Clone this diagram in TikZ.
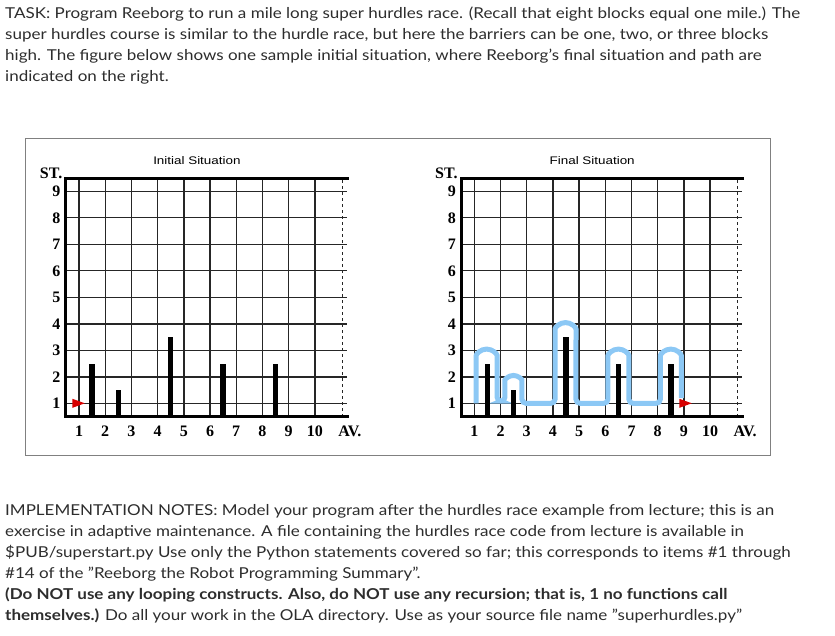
\documentclass[tikz,border=0pt]{standalone}
\usepackage{fontspec}
\usepackage{graphicx}
\newfontfamily\bodyfont{Lato}
\newfontfamily\titlefont{Liberation Sans}
\newfontfamily\numfont{Liberation Serif}
\definecolor{pathblue}{RGB}{140,200,245}
\definecolor{robotred}{RGB}{215,0,0}
\definecolor{txt}{RGB}{45,45,45}
\newcommand{\bt}[1]{\scalebox{1.134}[1]{#1}}
\newcommand{\rgrid}[2]{%
  \foreach \i in {1,...,10} \draw[gridthin] (\i,0.5) -- (\i,9.5);
  \foreach \j in {1,...,9} \draw[gridthin] (0.5,\j) -- (11.22,\j);
  \draw[gridthin, dashed, line width=0.8pt] (11.05,0.5) -- (11.05,9.5);
  \draw[axisline] (11.3,9.5) -- (0.5,9.5) -- (0.5,0.5) -- (11.3,0.5);
  \foreach \j in {1,...,9} \node[numlab, anchor=east] (#1s\j) at (0.3,\j) {\j};
  \foreach \i in {1,...,10} \node[numlab] (#1a\i) at (\i,-0.07) {\i};
  \node[numlab, anchor=east] (#1st) at (0.37,9.69) {ST.};
  \node[numlab] (#1av) at (11.34,-0.07) {AV.};
  \node[titlelab] (#1title) at (5.5,10.15) {\scalebox{1.22}[1]{#2}};
}
\newcommand{\rwalls}{%
  \foreach \x/\h in {1.5/2.5,2.5/1.5,4.5/3.5,6.5/2.5,8.5/2.5}
    \draw[wallline] (\x,0.5) -- (\x,\h);
}
\begin{document}
\begin{tikzpicture}[x=1pt,y=-1pt,
  gridthin/.style={line width=1.4pt, black!85},
  axisline/.style={line width=3pt, black},
  wallline/.style={line width=5.5pt, black},
  robot/.style={fill=robotred, draw=none},
  bluepath/.style={line width=5pt, pathblue, rounded corners=4pt},
  numlab/.style={inner sep=0pt, font=\numfont\bfseries\fontsize{16}{16}\selectfont},
  titlelab/.style={inner sep=0pt, font=\titlefont\fontsize{11}{11}\selectfont},
  bodytext/.style={inner sep=0pt, anchor=base west, text=txt, font=\bodyfont\fontsize{15}{21}\selectfont},
  framebox/.style={draw=black!50, line width=1pt}
]
\useasboundingbox (0,0) rectangle (835,636);

% top text
\node[bodytext] (t1) at (5,19) {\bt{TASK: Program Reeborg to run a mile long super hurdles race. (Recall that eight blocks equal one mile.) The}};
\node[bodytext] (t2) at (5,40) {\bt{super hurdles course is similar to the hurdle race, but here the barriers can be one, two, or three blocks}};
\node[bodytext] (t3) at (5,61) {\bt{high. The figure below shows one sample initial situation, where Reeborg’s final situation and path are}};
\node[bodytext] (t4) at (5,82) {\bt{indicated on the right.}};

% frame
\draw[framebox] (25,139) rectangle (770,455);

% left grid
\begin{scope}[shift={(52.8pt,-429.8pt)}, x=26.2pt, y=26.5pt]
  \rgrid{L}{Initial Situation}
  \rwalls
  \fill[robot] (0.75,1.17) -- (0.75,0.83) -- (1.22,1) -- cycle;
\end{scope}

% right grid
\begin{scope}[shift={(448.1pt,-429.8pt)}, x=26.2pt, y=26.5pt]
  \rgrid{R}{Final Situation}
  \draw[bluepath] (1.07,1.0) -- (1.07,2.65) arc[start angle=180, end angle=0, radius=10.5pt]
    -- (1.87,1.08) -- (2.17,1.08) -- (2.17,1.73) arc[start angle=180, end angle=0, radius=8.5pt]
    -- (2.82,1) -- (4.08,1) -- (4.08,3.65) arc[start angle=180, end angle=0, radius=10.5pt]
    -- (4.88,1) -- (6.1,1) -- (6.1,2.65) arc[start angle=180, end angle=0, radius=10.5pt]
    -- (6.9,1) -- (8.1,1) -- (8.1,2.65) arc[start angle=180, end angle=0, radius=10.5pt]
    -- (8.9,1.2);
  \rwalls
  \fill[robot] (8.83,1.17) -- (8.83,0.83) -- (9.3,1) -- cycle;
\end{scope}

% bottom text
\node[bodytext] (n1) at (5,515) {\bt{IMPLEMENTATION NOTES: Model your program after the hurdles race example from lecture; this is an}};
\node[bodytext] (n2) at (5,536) {\bt{exercise in adaptive maintenance. A file containing the hurdles race code from lecture is available in}};
\node[bodytext] (n3) at (5,557) {\bt{\$PUB/superstart.py Use only the Python statements covered so far; this corresponds to items \#1 through}};
\node[bodytext] (n4) at (5,578) {\bt{\#14 of the ”Reeborg the Robot Programming Summary”.}};
\node[bodytext] (n5) at (5,599) {\bt{\bfseries (Do NOT use any looping constructs. Also, do NOT use any recursion; that is, 1 no functions call}};
\node[bodytext] (n6) at (5,620) {\bt{{\bfseries themselves.)} Do all your work in the OLA directory. Use as your source file name ”superhurdles.py”}};
\end{tikzpicture}
\end{document}
